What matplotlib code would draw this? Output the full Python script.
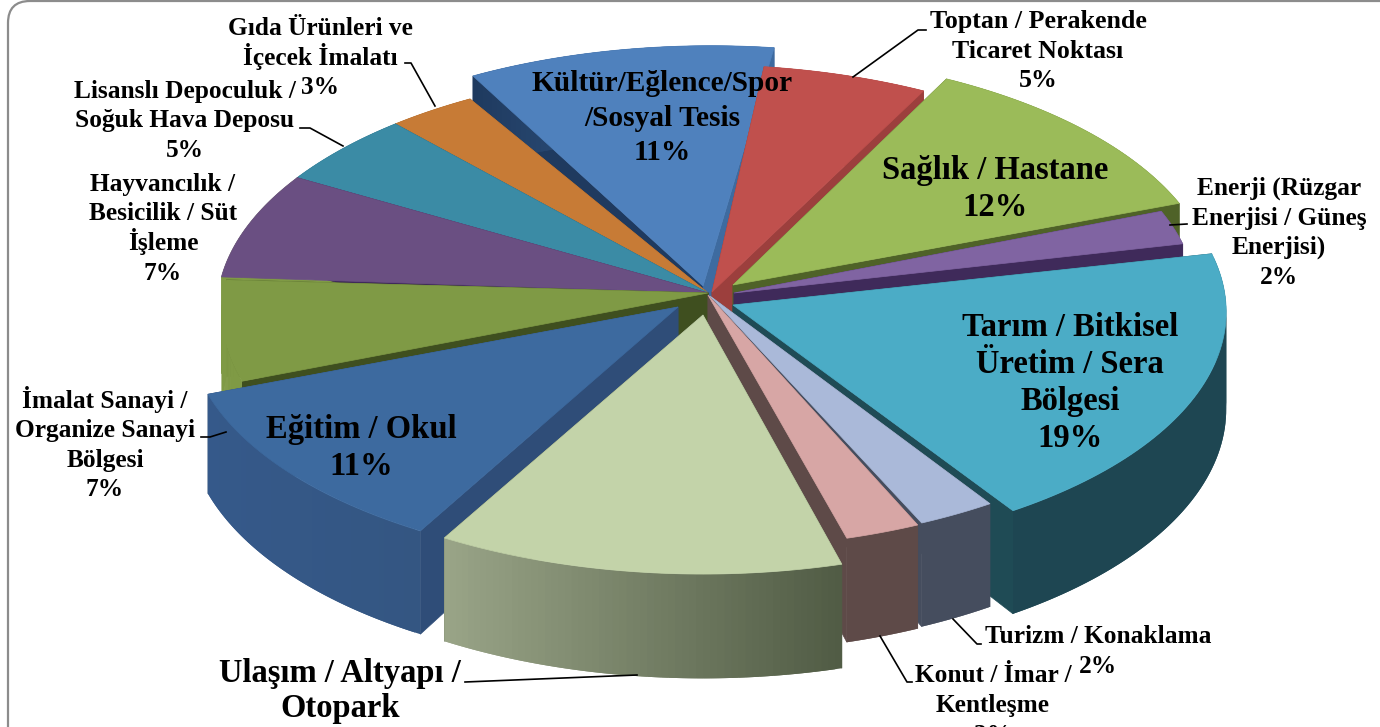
import numpy as np
import matplotlib
matplotlib.use('Agg')
import matplotlib.pyplot as plt
from matplotlib.colors import to_rgb
from matplotlib.patches import FancyBboxPatch, Polygon

plt.rcParams['font.family'] = ['Liberation Serif', 'DejaVu Serif']

# slices clockwise, starting with Kültür at the back
categories = ["Kültür", "Toptan", "Sağlık", "Enerji", "Tarım", "Turizm", "Konut",
              "Ulaşım", "Eğitim", "İmalat", "Hayvancılık", "Lisanslı", "Gıda"]
shares = [10.8, 5.8, 11.9, 2.3, 18.8, 2.4, 2.3, 12.5, 11.1, 6.7, 7.2, 5.0, 3.1]

# explode of the rim and of the tip, in pixels
rim_shift = [(3, -23), (-7, -4), (16, -16), (-2, -8), (27, 2), (4, -5), (0, -3),
             (-5, 23), (-29, 16), (5, 3), (0, 0), (0, 0), (0, 0)]
tip_shift = [(-5, -7), (4, -1), (25, -8), (26, 0), (25, 12), (2, 3), (0, 2),
             (-5, 22), (-30, 14), (0, 0), (0, 0), (0, 0), (0, 0)]

top_colors = ["#4F81BD", "#C0504D", "#9BBB59", "#8064A2", "#4BACC6", "#AAB9D9", "#D7A6A5",
              "#C3D3A9", "#3D6A9F", "#7F9A45", "#6A4F82", "#3B8BA5", "#C77B36"]
start_wall = ["#1F3A5F", "#8E3A38", "#4F6228", "#3F2A5A", "#1F4B55", "#454D5E", "#5E4A48",
              "#515C45", "#2F4D78", "#3F4F1F", "#7F9A45", "#1F5566", "#7F4D20"]
end_wall = ["#3E6BA0", "#9C3F3D", "#4F6228", "#3F2A5A", "#1F4B55", "#454D5E", "#5E4A48",
            "#515C45", "#2F4D78", "#3F4F1F", "#3F2A5A", "#1F5566", "#7F4D20"]
side_left = ["#1F3A5F", "#9C3F3D", "#4F6228", "#3F2A5A", "#1E4652", "#454D5E", "#5E4A48",
             "#9AA588", "#35598A", "#7F9A45", "#7F9A45", "#1F5566", "#7F4D20"]
side_right = ["#3E6BA0", "#9C3F3D", "#4F6228", "#3F2A5A", "#1E4652", "#454D5E", "#5E4A48",
              "#515C45", "#345682", "#7F9A45", "#7F9A45", "#1F5566", "#7F4D20"]

# lines, x, first baseline, line pitch, size
labels = [
    (["Gıda Ürünleri ve", "İçecek İmalatı", "3%"], 320, 35, 29.5, 18.3),
    (["Lisanslı Depoculuk /", "Soğuk Hava Deposu", "5%"], 185, 98, 29.5, 18.3),
    (["Hayvancılık /", "Besicilik / Süt", "İşleme", "7%"], 163, 191, 29.5, 18.3),
    (["İmalat Sanayi /", "Organize Sanayi", "Bölgesi", "7%"], 105, 408, 29.5, 18.3),
    (["Toptan / Perakende", "Ticaret Noktası", "5%"], 1038, 28, 29.5, 18.6),
    (["Enerji (Rüzgar", "Enerjisi / Güneş", "Enerjisi)", "2%"], 1279, 195, 29.5, 18.3),
    (["Tarım / Bitkisel", "Üretim / Sera", "Bölgesi", "19%"], 1070, 336, 37, 23.5),
    (["Sağlık / Hastane", "12%"], 995, 179, 37, 23.5),
    (["Kültür/Eğlence/Spor", "/Sosyal Tesis", "11%"], 662, 91, 34.5, 21.2),
    (["Eğitim / Okul", "11%"], 361, 438, 37, 23.5),
    (["Ulaşım / Altyapı /", "Otopark"], 340, 682, 35, 23.5),
    (["Turizm / Konaklama", "2%"], 1098, 643, 30, 18.3),
    (["Konut / İmar /", "Kentleşme", "3%"], 993, 682, 30, 18.3),
]

leaders = [
    [(405, 63), (411, 63), (435, 106)],
    [(300, 128), (310, 128), (343, 146)],
    [(201, 437), (210, 437), (226, 432)],
    [(853, 77), (918, 30), (926, 30)],
    [(1170, 225), (1187, 224)],
    [(953, 619), (977, 644), (981, 644)],
    [(880, 636), (907, 682), (912, 682)],
    [(637, 675), (465, 682)],
]

cx, cy = 708, 293
rx, ry = 490, 240
persp = 0.07
depth = 97
first_angle = -31


def project(theta):
    X = np.sin(np.radians(theta))
    Y = -np.cos(np.radians(theta))
    w = 1 / (1 - persp * Y)
    return cx + rx * X * w, cy + ry * Y * w, w


fig = plt.figure(figsize=(13.8, 7.27), dpi=100)
ax = fig.add_axes([0, 0, 1, 1])
ax.set_xlim(0, 1380)
ax.set_ylim(727, 0)
ax.axis('off')

ax.add_patch(FancyBboxPatch((28, 21), 1400, 760, boxstyle="round,pad=20,rounding_size=22",
                            fc='white', ec='#8C8C8C', lw=1.6))

total = sum(shares)
edges = first_angle + np.cumsum([0] + shares) * 360.0 / total
mids = (edges[:-1] + edges[1:]) / 2
order = np.argsort(-np.cos(np.radians(mids)))

for i in order:
    t0, t1 = edges[i], edges[i + 1]
    thetas = np.linspace(t0, t1, 60)
    px, py, pw = project(thetas)
    px = px + rim_shift[i][0]
    py = py + rim_shift[i][1]
    tip = (cx + tip_shift[i][0], cy + tip_shift[i][1])
    tip_low = (tip[0], tip[1] + depth * 0.95)

    low0 = (px[0], py[0] + depth * pw[0])
    low1 = (px[-1], py[-1] + depth * pw[-1])
    ax.add_patch(Polygon([tip, (px[0], py[0]), low0, tip_low], fc=start_wall[i], ec=start_wall[i], lw=0.5))
    ax.add_patch(Polygon([tip, (px[-1], py[-1]), low1, tip_low], fc=end_wall[i], ec=end_wall[i], lw=0.5))

    # rim side, cut in strips for the gradient, each strip laps over the next one
    c0 = np.array(to_rgb(side_left[i]))
    c1 = np.array(to_rgb(side_right[i]))
    xmin, xmax = px.min(), px.max()
    for k in range(len(px) - 1):
        k2 = min(k + 2, len(px) - 1)
        f = (px[k] - xmin) / (xmax - xmin)
        col = c0 + (c1 - c0) * f
        quad = [(px[k], py[k]), (px[k + 1], py[k + 1]), (px[k2], py[k2]),
                (px[k2], py[k2] + depth * pw[k2]), (px[k + 1], py[k + 1] + depth * pw[k + 1]),
                (px[k], py[k] + depth * pw[k])]
        ax.add_patch(Polygon(quad, fc=col, ec='none', lw=0))

    top = [tip] + list(zip(px, py))
    ax.add_patch(Polygon(top, fc=top_colors[i], ec=top_colors[i], lw=0.5))

for pts in leaders:
    ax.plot([p[0] for p in pts], [p[1] for p in pts], color='black', lw=1.2)

for lines, x, y, pitch, size in labels:
    for n, line in enumerate(lines):
        ax.text(x, y + n * pitch, line, ha='center', va='baseline', fontsize=size,
                fontweight='bold', color='black')

fig.savefig('out.png', dpi=100)
